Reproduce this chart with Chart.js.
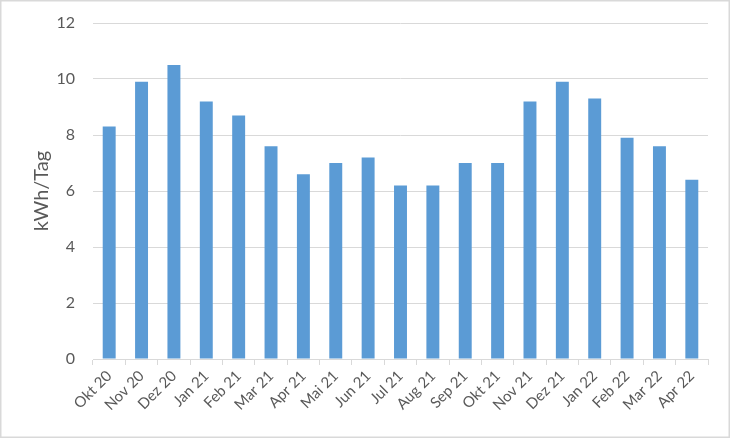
<!DOCTYPE html>
<html>
<head>
<meta charset="utf-8">
<script src="https://cdn.jsdelivr.net/npm/chart.js@4/dist/chart.umd.min.js"></script>
<style>
html,body{margin:0;padding:0;background:#fff;}
#wrap{width:730px;height:438px;position:relative;}
</style>
</head>
<body>
<div id="wrap"><canvas id="c" width="730" height="438"></canvas></div>
<script>
const categories = ["Okt 20","Nov 20","Dez 20","Jan 21","Feb 21","Mar 21","Apr 21","Mai 21","Jun 21","Jul 21","Aug 21","Sep 21","Okt 21","Nov 21","Dez 21","Jan 22","Feb 22","Mar 22","Apr 22"];
const values = [8.3,9.9,10.5,9.2,8.7,7.6,6.6,7.0,7.2,6.2,6.2,7.0,7.0,9.2,9.9,9.3,7.9,7.6,6.4];
const yTicks = [0,2,4,6,8,10,12];
const yTitle = "kWh/Tag";

const FONT = "Lato, 'Open Sans', sans-serif";
const TXT = "#595959";

const borderPlugin = {
  id: 'outerBorder',
  afterDraw(chart){
    const ctx = chart.ctx;
    ctx.save();
    ctx.strokeStyle = '#d9d9d9';
    ctx.lineWidth = 1.5;
    ctx.strokeRect(0.75,0.75,chart.width-1.5,chart.height-1.5);
    ctx.restore();
  }
};

new Chart(document.getElementById('c'), {
  type: 'bar',
  data: {
    labels: categories,
    datasets: [{
      data: values,
      backgroundColor: '#5B9BD5',
      borderWidth: 0,
      barPercentage: 0.4,
      categoryPercentage: 1.0
    }]
  },
  options: {
    responsive: false,
    animation: false,
    devicePixelRatio: 1,
    layout: { padding: { top: 23, right: 22, left: 0, bottom: 0 } },
    plugins: { legend: { display: false }, tooltip: { enabled: false } },
    scales: {
      x: {
        offset: true,
        grid: { display: true, drawOnChartArea: false, drawTicks: true, tickLength: 6, color: '#d9d9d9', offset: true },
        border: { display: true, color: '#d9d9d9', width: 1 },
        ticks: { color: TXT, font: { family: FONT, size: 15 }, minRotation: 45, maxRotation: 45, autoSkip: false, padding: 2 },
        afterFit(scale){ scale.height = 79; }
      },
      y: {
        min: 0, max: 12,
        afterBuildTicks(scale){ scale.ticks = yTicks.map(v => ({value: v})); },
        grid: { color: '#d9d9d9', drawTicks: false },
        border: { display: false },
        ticks: { color: TXT, font: { family: FONT, size: 16 }, padding: 18 },
        title: { display: true, text: yTitle, color: TXT, font: { family: FONT, size: 20 }, padding: { top: 30, bottom: 0 } },
        afterFit(scale){ scale.width = 93; scale.paddingTop = 0; scale.paddingBottom = 0; }
      }
    }
  },
  plugins: [borderPlugin]
});
</script>
</body>
</html>
